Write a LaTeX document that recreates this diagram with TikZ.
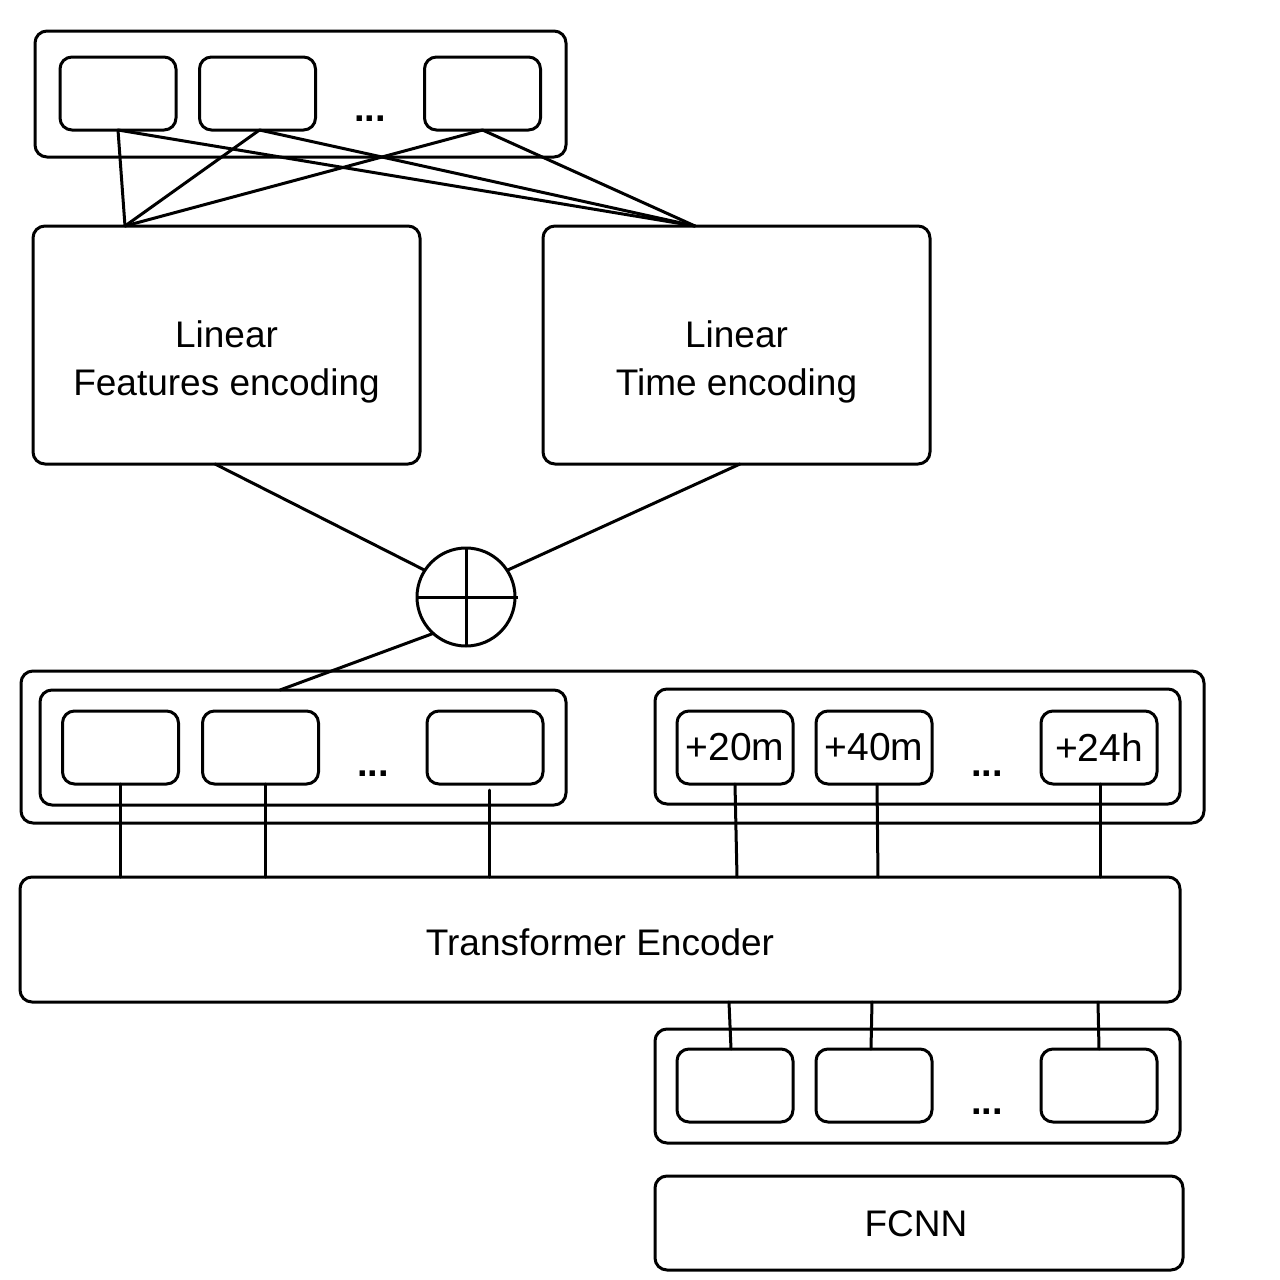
\documentclass[tikz,border=0pt]{standalone}
\usepackage{fontspec}
\setmainfont{Liberation Sans}
\usetikzlibrary{calc}
\tikzset{
  bx/.style={draw, line width=3pt, rounded corners=12pt, inner sep=0pt, outer sep=0pt},
  lbl/.style={font=\fontsize{37}{48}\selectfont, inner sep=0pt, align=center},
  tag/.style={font=\fontsize{39}{46}\selectfont},
  dts/.style={font=\fontsize{38}{40}\selectfont\bfseries, inner sep=0pt, anchor=base},
  cn/.style={line width=3pt, line cap=round},
  sbox/.style={bx, minimum width=116pt, minimum height=73pt}
}
\begin{document}
\begin{tikzpicture}[x=1pt,y=-1pt]
\useasboundingbox (0,0) rectangle (1280,1280);
\fill[white] (0,0) rectangle (1280,1280);

% top group
\node[bx, minimum width=531pt, minimum height=126pt] (top) at (300.5,94) {};
\node[sbox] (t1) at (118,93.5) {};
\node[sbox] (t2) at (257.5,93.5) {};
\node[sbox] (t3) at (482.5,93.5) {};
\node[dts] (tdots) at (370,121) {...};

% encoders
\node[bx, minimum width=387pt, minimum height=238pt] (feat) at (226.5,345) {};
\node[bx, minimum width=387pt, minimum height=238pt] (time) at (736.5,345) {};
\node[lbl] (featlbl) at (226.5,362) {Linear\\Features encoding};
\node[lbl] (timelbl) at (736.5,362) {Linear\\Time encoding};

\coordinate (fa) at ($(feat.north west)+(92,0)$);
\coordinate (ta) at ($(time.north west)+(152,0)$);
\draw[cn] (t1.south) -- (fa);
\draw[cn] ($(t2.south)+(2,0)$) -- (fa);
\draw[cn] (t3.south) -- (fa);
\draw[cn] (t1.south) -- (ta);
\draw[cn] ($(t2.south)+(2,0)$) -- (ta);
\draw[cn] (t3.south) -- (ta);

% plus
\node[draw, circle, line width=3pt, minimum size=98pt, inner sep=0pt, outer sep=0pt] (plus) at (466,597) {};
\draw[line width=3pt] (plus.west) -- ($(plus.east)+(3,0)$);
\draw[line width=3pt] (plus.north) -- (plus.south);
\draw[cn] ($(feat.south)+(-11.5,0)$) -- (plus.147);
\draw[cn] ($(time.south)+(3.5,0)$) -- (plus.33);

% middle group
\node[bx, minimum width=1183pt, minimum height=152pt] (mid) at (612.5,747) {};
\node[bx, minimum width=526pt, minimum height=115pt] (leftgrp) at (303,747.5) {};
\node[bx, minimum width=525pt, minimum height=115pt] (rightgrp) at (917.5,746.5) {};
\node[sbox] (l1) at (120.5,747.5) {};
\node[sbox] (l2) at (260.5,747.5) {};
\node[sbox] (l3) at (485,747.5) {};
\node[dts] (ldots) at (373,776) {...};
\node[sbox, tag] (r1) at (735,747.5) {+20m};
\node[sbox, tag] (r2) at (874,747.5) {+40m};
\node[sbox, tag] (r3) at (1099,747.5) {+24h};
\node[dts] (rdots) at (987,776) {...};
\draw[cn] (plus.228) -- ($(leftgrp.north)+(-23,0)$);

% transformer
\node[bx, minimum width=1160pt, minimum height=125pt] (trans) at (600,939.5) {};
\node[lbl] (translbl) at (600,942) {Transformer Encoder};

\draw[cn] (l1.south) -- (l1.south |- trans.north);
\draw[cn] ($(l2.south)+(5,0)$) -- ($(l2.south |- trans.north)+(5,0)$);
\draw[cn] ($(l3.south)+(4,6)$) -- ($(l3.south |- trans.north)+(4,0)$);
\draw[cn] (r1.south) -- ($(r1.south |- trans.north)+(2,0)$);
\draw[cn] ($(r2.south)+(3,0)$) -- ($(r2.south |- trans.north)+(4,0)$);
\draw[cn] ($(r3.south)+(1,0)$) -- ($(r3.south |- trans.north)+(1,0)$);

% output group
\node[bx, minimum width=525pt, minimum height=114pt] (outgrp) at (917.5,1086) {};
\node[sbox] (o1) at (735,1085.5) {};
\node[sbox] (o2) at (874,1085.5) {};
\node[sbox] (o3) at (1099,1085.5) {};
\node[dts] (odots) at (987,1114) {...};
\draw[cn] ($(o1.north |- trans.south)+(-6,0)$) -- ($(o1.north)+(-4,0)$);
\draw[cn] ($(o2.north |- trans.south)+(-2,0)$) -- ($(o2.north)+(-3,0)$);
\draw[cn] ($(o3.north |- trans.south)+(-1,0)$) -- (o3.north);

% FCNN
\node[bx, minimum width=528pt, minimum height=94pt] (fcnn) at (919,1223) {};
\node[lbl] (fcnnlbl) at (916,1224) {FCNN};
\end{tikzpicture}
\end{document}
